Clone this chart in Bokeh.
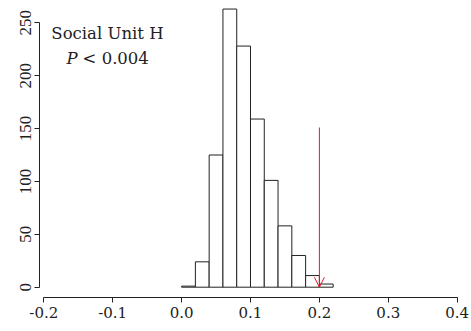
from bokeh.plotting import figure
from bokeh.models import (Range1d, FixedTicker, NumeralTickFormatter, Arrow,
                          OpenHead, Label, ColumnDataSource)
from bokeh.embed import file_html
from bokeh.resources import INLINE

# ---- data ----
bin_left = [0.00, 0.02, 0.04, 0.06, 0.08, 0.10, 0.12, 0.14, 0.16, 0.18, 0.20]
bin_width = 0.02
counts = [1, 24, 125, 263, 228, 159, 101, 58, 30, 11, 3]
x_ticks = [-0.2, -0.1, 0.0, 0.1, 0.2, 0.3, 0.4]
y_ticks = [0, 50, 100, 150, 200, 250]
observed_x = 0.2
arrow_top = 151
title_text = "Social Unit H"
p_symbol = "P"
p_rest = "< 0.004"

src = ColumnDataSource(dict(
    left=bin_left,
    right=[b + bin_width for b in bin_left],
    top=counts,
    bottom=[0] * len(counts),
))

p = figure(width=471, height=331, output_backend="svg", toolbar_location=None,
           x_range=Range1d(-0.20624, 0.4135), y_range=Range1d(-9.74, 271.09),
           min_border_left=39, min_border_right=5, min_border_top=0,
           min_border_bottom=34)
p.outline_line_color = None
p.grid.grid_line_color = None
p.background_fill_color = "white"

p.quad(left="left", right="right", top="top", bottom="bottom", source=src,
       fill_color="white", line_color="#222222", line_width=1)

p.add_layout(Arrow(end=OpenHead(size=10, line_color="#e8191f", line_width=1),
                   x_start=observed_x, y_start=arrow_top,
                   x_end=observed_x, y_end=0,
                   line_color="#e8191f", line_width=1))

# axes
xa = p.xaxis[0]
xa.ticker = FixedTicker(ticks=x_ticks)
xa.formatter = NumeralTickFormatter(format="0.0")
xa.bounds = (x_ticks[0], x_ticks[-1])
ya = p.yaxis[0]
ya.ticker = FixedTicker(ticks=y_ticks)
ya.bounds = (y_ticks[0], y_ticks[-1])
ya.major_label_orientation = "vertical"
for ax in (xa, ya):
    ax.axis_line_color = "#222222"
    ax.major_tick_line_color = "#222222"
    ax.major_tick_out = 5
    ax.major_tick_in = 0
    ax.minor_tick_line_color = None
    ax.major_label_text_color = "#222222"
    ax.major_label_text_font_style = "normal"
xa.major_label_text_font = "DejaVu Serif"
xa.major_label_text_font_size = "15px"
xa.major_label_standoff = 4
ya.major_label_text_font = "Liberation Serif"
ya.major_label_text_font_size = "17px"
ya.major_label_standoff = 3

p.add_layout(Label(x=-0.1076, y=239.6, text=title_text, text_align="center",
                   text_baseline="middle", text_font="DejaVu Serif",
                   text_font_size="16.5px", text_color="#222222"))
p.add_layout(Label(x=-0.1510, y=216.7, text=p_symbol, text_align="right",
                   text_baseline="middle", text_font="DejaVu Serif",
                   text_font_style="italic",
                   text_font_size="16.5px", text_color="#222222"))
p.add_layout(Label(x=-0.1510, y=216.7, x_offset=5, text=p_rest,
                   text_align="left",
                   text_baseline="middle", text_font="DejaVu Serif",
                   text_font_size="16.5px", text_color="#222222"))

open("out.html", "w").write(file_html(p, INLINE))
